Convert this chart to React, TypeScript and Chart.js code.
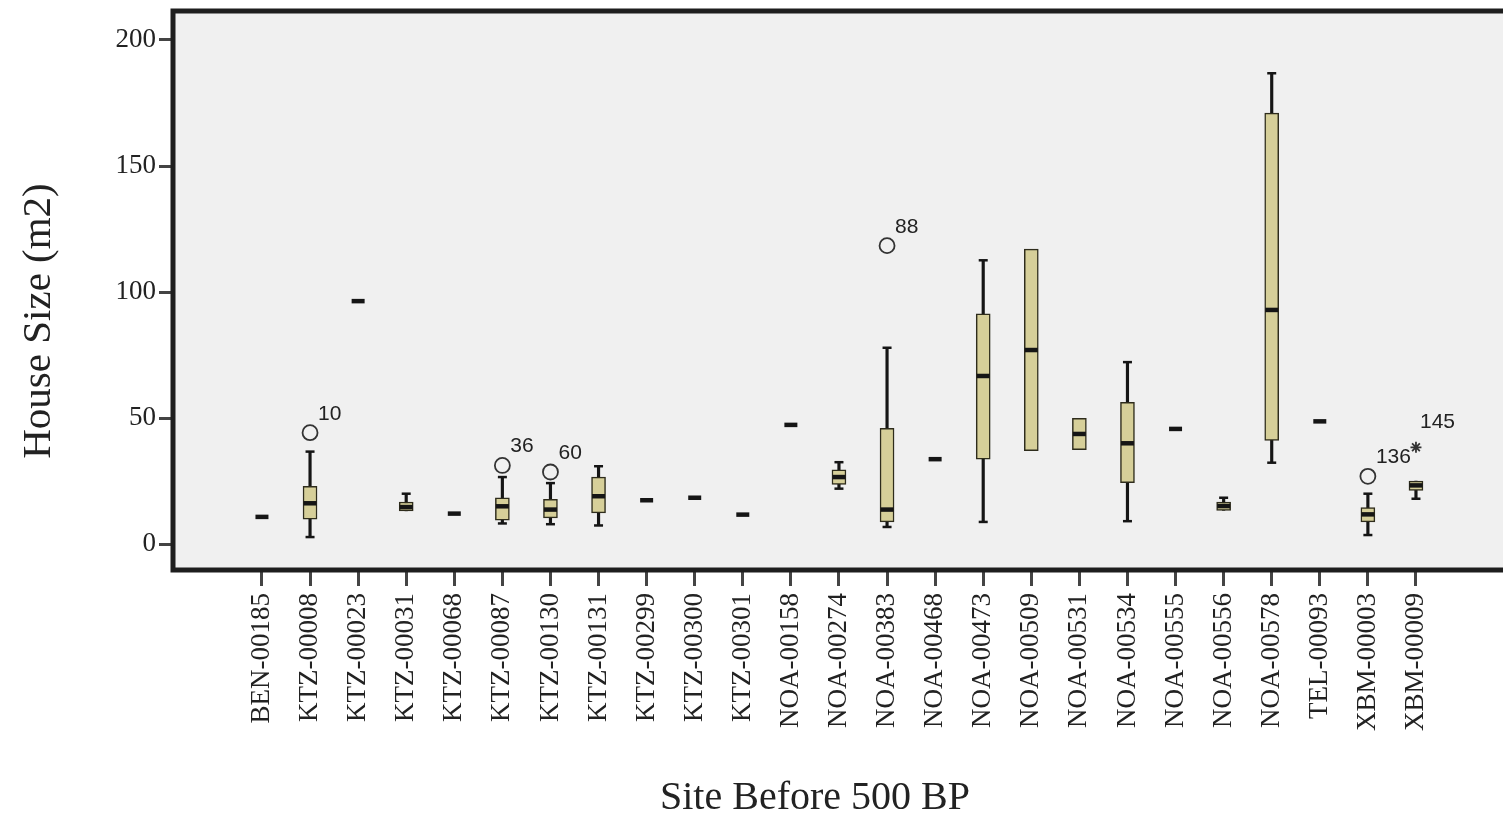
import React, { useEffect, useRef } from "react";
import { Chart, registerables } from "chart.js";

Chart.register(...registerables);

const categories = [
  "BEN-00185", "KTZ-00008", "KTZ-00023", "KTZ-00031", "KTZ-00068", "KTZ-00087",
  "KTZ-00130", "KTZ-00131", "KTZ-00299", "KTZ-00300", "KTZ-00301", "NOA-00158",
  "NOA-00274", "NOA-00383", "NOA-00468", "NOA-00473", "NOA-00509", "NOA-00531",
  "NOA-00534", "NOA-00555", "NOA-00556", "NOA-00578", "TEL-00093", "XBM-00003",
  "XBM-00009",
];

const medians = [10.8, 16.2, 96.4, 14.7, 12.1, 15.0, 13.7, 19.0, 17.4, 18.4, 11.7, 47.3,
  26.6, 13.7, 33.7, 66.7, 77.0, 43.7, 40.0, 45.7, 15.1, 92.9, 48.7, 11.8, 23.3];
const q1: (number | null)[] = [null, 9.9, null, 13.2, null, 9.5, 10.4, 12.4, null, null, null, null,
  23.7, 8.8, null, 33.7, 37.1, 37.5, 24.4, null, 13.4, 41.1, null, 8.8, 21.3];
const q3: (number | null)[] = [null, 22.9, null, 16.7, null, 18.4, 17.8, 26.6, null, null, null, null,
  29.5, 45.9, null, 91.4, 117.0, 49.9, 56.2, null, 16.7, 171.0, null, 14.5, 25.0];
const whiskerLow: (number | null)[] = [null, 2.8, null, null, null, 8.2, 7.9, 7.4, null, null, null, null,
  22.0, 6.8, null, 8.8, null, null, 9.1, null, null, 32.3, null, 3.6, 18.0];
const whiskerHigh: (number | null)[] = [null, 36.7, null, 20.0, null, 26.6, 24.2, 30.9, null, null, null, null,
  32.5, 77.9, null, 112.6, null, null, 72.2, null, 18.4, 186.8, null, 20.0, null];

const outlierSite = [1, 5, 6, 13, 23];
const outlierValue = [44.2, 31.2, 28.6, 118.4, 26.9];
const outlierCase = ["10", "36", "60", "88", "136"];

const extremeSite = [24];
const extremeValue = [38.4];
const extremeCase = ["145"];

const yTicks = [0, 50, 100, 150, 200];

const BOX_FILL = "rgb(214, 207, 153)";
const BOX_EDGE = "#2e2c1c";
const INK = "#151515";

const decorPlugin = {
  id: "decor",
  afterLayout(chart: any) {
    const xs = chart.scales.x;
    const W = chart.width;
    if (xs && chart.chartArea.right !== W) {
      chart.chartArea.right = W;
      chart.chartArea.width = W - chart.chartArea.left;
      xs.right = W;
      xs.width = W - xs.left;
      xs.configure();
    }
  },
  beforeDraw(chart: any) {
    const { ctx, chartArea, width } = chart;
    const { left, top, bottom } = chartArea;
    ctx.save();
    ctx.fillStyle = "#f0f0f0";
    ctx.fillRect(left, top, width - left, bottom - top);
    ctx.restore();
  },
  afterDatasetsDraw(chart: any) {
    const { ctx, scales } = chart;
    const xs = scales.x;
    const ys = scales.y;
    ctx.save();
    ctx.fillStyle = "#222";
    ctx.font = '21px "Liberation Sans", Arial, sans-serif';
    ctx.textAlign = "left";
    ctx.textBaseline = "alphabetic";
    outlierSite.forEach((s, i) => {
      const px = xs.getPixelForValue(s);
      const py = ys.getPixelForValue(outlierValue[i]);
      ctx.fillText(outlierCase[i], px + 8, py - 13);
    });
    extremeSite.forEach((s, i) => {
      const px = xs.getPixelForValue(s);
      const py = ys.getPixelForValue(extremeValue[i]);
      ctx.fillText(extremeCase[i], px + 4, py - 19);
    });
    ctx.restore();
  },
  afterDraw(chart: any) {
    const { ctx, chartArea, width } = chart;
    const { left, top, bottom } = chartArea;
    ctx.save();
    ctx.strokeStyle = "#1e1e1e";
    ctx.lineWidth = 5;
    ctx.beginPath();
    ctx.moveTo(width + 10, top);
    ctx.lineTo(left, top);
    ctx.lineTo(left, bottom);
    ctx.lineTo(width + 10, bottom);
    ctx.stroke();

    ctx.fillStyle = "#222";
    ctx.textAlign = "center";
    ctx.textBaseline = "alphabetic";
    ctx.font = '40px "Liberation Serif", "Times New Roman", serif';
    ctx.fillText("Site Before 500 BP", 815, 809);

    ctx.font = '41px "Liberation Serif", "Times New Roman", serif';
    ctx.translate(50, 321);
    ctx.rotate(-Math.PI / 2);
    ctx.fillText("House Size (m2)", 0, 0);
    ctx.restore();
  },
};

export default function App() {
  const canvasRef = useRef<HTMLCanvasElement | null>(null);

  useEffect(() => {
    if (!canvasRef.current) return;

    const boxData: any[] = [];
    const whiskerData: any[] = [];
    const capData: any[] = [];
    categories.forEach((_, i) => {
      const a = q1[i];
      const b = q3[i];
      if (a != null && b != null) boxData.push({ x: i, y: [a, b] });
      const lo = whiskerLow[i];
      const hi = whiskerHigh[i];
      if (lo != null || hi != null) {
        whiskerData.push({ x: i, y: [lo ?? a, hi ?? b] });
        if (lo != null) capData.push({ x: i, y: lo });
        if (hi != null) capData.push({ x: i, y: hi });
      }
    });
    const medianData = medians.map((m, i) => ({ x: i, y: m }));
    const outlierData = outlierSite.map((s, i) => ({ x: s, y: outlierValue[i] }));
    const extremeData = extremeSite.map((s, i) => ({ x: s, y: extremeValue[i] }));

    const chart = new Chart(canvasRef.current, {
      type: "bar",
      data: {
        datasets: [
          {
            type: "bar",
            label: "whiskers",
            data: whiskerData,
            backgroundColor: INK,
            borderWidth: 0,
            barThickness: 2.5,
            grouped: false,
            order: 3,
          } as any,
          {
            type: "bar",
            label: "boxes",
            data: boxData,
            backgroundColor: BOX_FILL,
            borderColor: BOX_EDGE,
            borderWidth: 1.5,
            borderSkipped: false,
            barThickness: 14,
            grouped: false,
            order: 2,
          } as any,
          {
            type: "scatter",
            label: "caps",
            data: capData,
            pointStyle: "line",
            pointRadius: 4.5,
            borderWidth: 2.5,
            borderColor: INK,
            order: 1,
          } as any,
          {
            type: "scatter",
            label: "medians",
            data: medianData,
            pointStyle: "line",
            pointRadius: 6.5,
            borderWidth: 4.5,
            borderColor: INK,
            order: 0,
          } as any,
          {
            type: "scatter",
            label: "outliers",
            data: outlierData,
            pointStyle: "circle",
            pointRadius: 7.5,
            borderWidth: 1.8,
            borderColor: "#333",
            backgroundColor: "rgba(0,0,0,0)",
            order: 0,
          } as any,
          {
            type: "scatter",
            label: "extremes",
            data: extremeData,
            pointStyle: "star",
            pointRadius: 5.5,
            borderWidth: 1.8,
            borderColor: "#333",
            order: 0,
          } as any,
        ],
      },
      options: {
        animation: false,
        responsive: false,
        maintainAspectRatio: false,
        devicePixelRatio: 1,
        layout: { padding: { top: 8.5, left: 0, right: 0, bottom: 0 } },
        plugins: {
          legend: { display: false },
          tooltip: { enabled: false },
          title: { display: false },
        },
        scales: {
          x: {
            type: "linear",
            min: -1.85,
            max: 25.81,
            offset: false,
            afterFit: (s: any) => {
              s.height = 255;
              s.paddingLeft = 0;
              s.paddingRight = 0;
            },
            afterBuildTicks: (s: any) => {
              s.ticks = categories.map((_, i) => ({ value: i }));
            },
            ticks: {
              autoSkip: false,
              minRotation: 90,
              maxRotation: 90,
              padding: 7,
              color: "#222",
              font: { family: '"Liberation Serif", "Times New Roman", serif', size: 27 },
              callback: (v: any) => categories[v as number] ?? "",
            },
            grid: {
              offset: false,
              drawOnChartArea: false,
              drawTicks: true,
              tickLength: 16,
              tickWidth: 3,
              tickColor: "#444",
            },
            border: { display: false },
          },
          y: {
            type: "linear",
            min: -10.27,
            max: 211.5,
            afterFit: (s: any) => {
              s.width = 173;
              s.paddingTop = 0;
              s.paddingBottom = 0;
            },
            afterBuildTicks: (s: any) => {
              s.ticks = yTicks.map((v) => ({ value: v }));
            },
            ticks: {
              padding: 3,
              color: "#222",
              font: { family: '"Liberation Serif", "Times New Roman", serif', size: 27 },
            },
            grid: {
              drawOnChartArea: false,
              drawTicks: true,
              tickLength: 14,
              tickWidth: 3,
              tickColor: "#444",
            },
            border: { display: false },
          },
        },
      },
      plugins: [decorPlugin],
    } as any);

    return () => chart.destroy();
  }, []);

  return (
    <div style={{ position: "fixed", left: 0, top: 0, width: 1503, height: 825, background: "#fff", overflow: "hidden" }}>
      <canvas ref={canvasRef} width={1503} height={825} style={{ display: "block" }} />
    </div>
  );
}
